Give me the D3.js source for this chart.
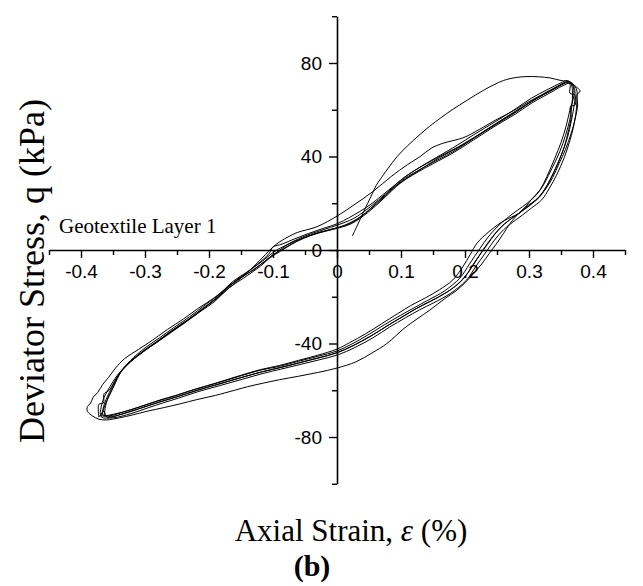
<!DOCTYPE html>
<html>
<head>
<meta charset="utf-8">
<script src="https://cdn.jsdelivr.net/npm/d3@7/dist/d3.min.js"></script>
<style>
  html, body { margin: 0; padding: 0; background: #fff; }
  svg { display: block; }
</style>
</head>
<body>
<svg id="chart" width="643" height="586"></svg>
<script>
// Axis ticks
const xMajorTicks = [-0.4, -0.3, -0.2, -0.1, 0, 0.1, 0.2, 0.3, 0.4];
const xMinorTicks = [-0.45, -0.35, -0.25, -0.15, -0.05, 0.05, 0.15, 0.25, 0.35, 0.45];
const yMajorTicks = [-80, -40, 0, 40, 80];
const yMinorTicks = [-100, -60, -20, 20, 60, 100];

// Cyclic load test, Geotextile Layer 1: [axial strain (%), deviator stress (kPa)]
// First cycle: initial loading from rest, then the widest unloading/reloading path
const cycle1 = [
  [0.024,6],[0.03,9.5],[0.036,13],[0.041,16],[0.048,20],[0.055,24],[0.061,27.5],[0.067,30],
  [0.08,35],[0.094,40],[0.11,44.5],[0.13,49.5],[0.145,53],[0.162,56.5],[0.18,60],[0.203,64],
  [0.23,68.5],[0.26,72.5],[0.28,73.8],[0.297,74.2],[0.315,74.1],[0.333,73.6],[0.35,72.5],
  [0.364,72],[0.372,70.2],[0.38,68],[0.375,66.5],[0.376,62],[0.372,56],[0.366,50],[0.357,43],
  [0.347,37],[0.337,31],[0.327,26.5],[0.315,22.5],[0.306,20.5],[0.293,18],[0.28,14.5],
  [0.27,11.2],[0.26,7],[0.25,3],[0.238,-1.5],[0.226,-6],[0.212,-10.5],[0.2,-14],[0.186,-17.5],
  [0.17,-20.5],[0.145,-25.7],[0.125,-29.5],[0.105,-33.5],[0.078,-40],[0.055,-44],[0.03,-47.8],
  [0,-50.5],[-0.03,-52.4],[-0.06,-54],[-0.09,-55.5],[-0.116,-57],[-0.14,-58.5],[-0.16,-60],
  [-0.19,-62.2],[-0.219,-64],[-0.245,-65.8],[-0.27,-67.4],[-0.297,-69],[-0.32,-70.6],
  [-0.34,-71.8],[-0.36,-72.7],[-0.372,-72.4],[-0.382,-71],[-0.39,-69],[-0.39,-67],
  [-0.385,-65.5],[-0.381,-63],[-0.374,-61],[-0.366,-57.5],[-0.357,-54.5],[-0.346,-50.5],
  [-0.332,-46.5],[-0.31,-42.5],[-0.288,-38.5],[-0.265,-34],[-0.24,-29.5],[-0.216,-24.8],
  [-0.192,-20.5],[-0.17,-15.6],[-0.148,-11],[-0.124,-6],[-0.106,-1.5],[-0.1,1.3],[-0.086,2.5],
  [-0.066,4.8],[-0.045,7],[-0.022,9.2],[0,11.2],[0.02,14],[0.05,19],[0.08,25.5],[0.11,32],
  [0.15,38.5],[0.19,44.2],[0.225,50],[0.26,56],[0.29,61],[0.315,65.3],[0.34,69],[0.357,71.5]
];

// Second cycle: reloading branch runs above the others near zero strain
const cycle2 = [
  [-0.368,-71],[-0.363,-65.5],[-0.353,-59.5],[-0.34,-53],[-0.323,-48],[-0.303,-43.5],
  [-0.282,-39.5],[-0.259,-35],[-0.235,-30.5],[-0.211,-25.5],[-0.189,-21],[-0.167,-15.8],
  [-0.15,-12],[-0.13,-7],[-0.112,-2],[-0.1,1.3],[-0.089,3.6],[-0.075,5.8],[-0.062,7.5],
  [-0.031,10],[0,14.5],[0.025,19],[0.056,25],[0.085,31.5],[0.11,36.5],[0.13,40],[0.147,43.5],
  [0.166,45.7],[0.197,48],[0.222,51.5],[0.244,55],[0.275,59.5],[0.3,63.5],[0.325,67.2],
  [0.348,70.5],[0.36,71.6],[0.368,70.5],[0.37,66],[0.364,60],[0.358,53],[0.35,46],[0.34,39],
  [0.328,31.5],[0.318,26],[0.305,22],[0.286,16],[0.268,13.5],[0.255,11.5],[0.236,7.5],
  [0.219,3],[0.208,-2],[0.197,-7],[0.181,-12.8],[0.16,-17],[0.138,-20.5],[0.115,-23.8],
  [0.095,-27.2],[0.07,-31.5],[0.045,-35.8],[0.02,-39.6],[0,-42.4],[-0.03,-45],[-0.06,-47.2],
  [-0.09,-49.4],[-0.12,-51.2],[-0.155,-54],[-0.19,-57],[-0.224,-59.8],[-0.255,-62.6],
  [-0.28,-64.6],[-0.302,-66.6],[-0.33,-69],[-0.356,-71],[-0.368,-71]
];

// Later cycles: stabilised loops
const cycle3 = [
  [-0.367,-70.5],[-0.362,-66],[-0.352,-60],[-0.339,-52.5],[-0.322,-47.5],[-0.302,-43],
  [-0.281,-39],[-0.258,-34.5],[-0.234,-30],[-0.21,-25],[-0.188,-20.5],[-0.167,-15],
  [-0.142,-10.5],[-0.116,-5.5],[-0.1,-2],[-0.084,0.5],[-0.065,3.5],[-0.047,5.8],[-0.025,7.8],
  [0,9.5],[0.025,12],[0.05,17],[0.075,23],[0.103,30],[0.14,36],[0.181,42],[0.215,48],
  [0.25,54],[0.28,59],[0.306,64],[0.33,67.5],[0.352,71],[0.362,72],[0.37,70],[0.372,66],
  [0.37,61],[0.366,55],[0.36,48],[0.351,41],[0.339,33.5],[0.328,27.5],[0.316,22.5],[0.3,19],
  [0.286,16],[0.27,13],[0.255,9.5],[0.241,5],[0.228,0],[0.212,-6.5],[0.197,-12.5],
  [0.172,-18],[0.146,-22],[0.124,-25],[0.103,-28.5],[0.078,-32.5],[0.052,-37],[0.025,-41],
  [0,-44],[-0.03,-46.2],[-0.06,-48.3],[-0.09,-50.4],[-0.116,-52],[-0.15,-54.6],[-0.185,-57.4],
  [-0.219,-60],[-0.25,-62.8],[-0.275,-64.8],[-0.297,-66.8],[-0.325,-69.2],[-0.352,-71.2],
  [-0.367,-70.5]
];

const cycle4 = [
  [-0.364,-71],[-0.36,-65],[-0.349,-58.5],[-0.336,-51.5],[-0.318,-46],[-0.298,-41.5],
  [-0.277,-37.5],[-0.254,-33],[-0.23,-28.5],[-0.206,-23.5],[-0.184,-19],[-0.163,-13.5],
  [-0.138,-9],[-0.113,-4],[-0.097,-0.5],[-0.08,2],[-0.06,4.8],[-0.04,7],[-0.02,8.8],[0,10.6],
  [0.026,13.5],[0.052,18.5],[0.078,24.5],[0.105,31],[0.142,37.5],[0.18,43.5],[0.213,49.2],
  [0.248,55],[0.278,60.2],[0.304,65],[0.328,68.5],[0.35,71.5],[0.36,72.5],[0.366,71],
  [0.368,67],[0.367,62],[0.364,56],[0.357,49],[0.348,42],[0.336,35],[0.325,29],[0.313,24],
  [0.297,20],[0.282,17],[0.265,13.5],[0.25,9.8],[0.236,5.5],[0.223,0.5],[0.207,-6],
  [0.192,-12],[0.168,-17.5],[0.142,-21.5],[0.12,-24.8],[0.099,-28],[0.074,-32],[0.048,-36.4],
  [0.022,-40.4],[0,-43.2],[-0.03,-45.5],[-0.06,-47.6],[-0.09,-49.8],[-0.118,-51.3],
  [-0.152,-54],[-0.187,-56.9],[-0.221,-59.5],[-0.252,-62.2],[-0.277,-64.2],[-0.3,-66.3],
  [-0.328,-68.8],[-0.355,-70.6],[-0.364,-71]
];

const cycle5 = [
  [-0.37,-69.5],[-0.366,-64.5],[-0.356,-59],[-0.343,-53.5],[-0.326,-48.5],[-0.306,-44],
  [-0.285,-40.2],[-0.262,-35.8],[-0.238,-31.2],[-0.214,-26.4],[-0.191,-22],[-0.17,-16.5],
  [-0.146,-12],[-0.12,-7],[-0.104,-3.2],[-0.088,-0.5],[-0.07,2.6],[-0.052,5],[-0.03,7.2],
  [-0.005,8.9],[0.022,11.2],[0.048,16],[0.072,21.8],[0.1,28.8],[0.137,35],[0.178,41],
  [0.213,47],[0.247,53],[0.279,58.2],[0.305,63],[0.33,66.8],[0.353,70.3],[0.365,71.4],
  [0.374,69],[0.375,64],[0.373,58],[0.369,52],[0.363,46],[0.355,39.5],[0.343,32],
  [0.332,26.5],[0.32,21.5],[0.304,18],[0.29,15],[0.275,12],[0.26,8.6],[0.246,4.2],
  [0.233,-0.8],[0.217,-7],[0.202,-13],[0.177,-18.6],[0.151,-22.6],[0.129,-25.6],[0.107,-29],
  [0.082,-33],[0.056,-37.6],[0.028,-41.7],[0.002,-44.8],[-0.028,-47],[-0.058,-49],
  [-0.088,-51],[-0.114,-52.7],[-0.148,-55.3],[-0.183,-58],[-0.217,-60.6],[-0.248,-63.4],
  [-0.273,-65.5],[-0.295,-67.5],[-0.322,-70],[-0.35,-71.8],[-0.368,-71.5],[-0.37,-69.5]
];

const cycle6 = [
  [-0.372,-71.5],[-0.372,-66],[-0.365,-65.5],[-0.364,-61.5],[-0.356,-60],[-0.345,-55],
  [-0.33,-49.5],[-0.312,-45.5],[-0.29,-41],[-0.268,-36.5],[-0.245,-32],[-0.22,-27.5],
  [-0.197,-22.5],[-0.176,-17.5],[-0.155,-12.5],[-0.13,-8.5],[-0.11,-4.2],[-0.093,-0.8],
  [-0.076,2.5],[-0.056,4.8],[-0.035,6.8],[-0.012,8.6],[0.012,10.6],[0.038,14.5],[0.062,20.2],
  [0.09,27],[0.122,33],[0.16,39.5],[0.197,45],[0.232,51.2],[0.265,57],[0.293,61.8],
  [0.318,65.8],[0.342,69.5],[0.358,71.8],[0.364,71],[0.364,67],[0.371,66.5],[0.372,62],
  [0.365,61.5],[0.366,57],[0.362,51.5],[0.355,44],[0.345,37],[0.334,30.5],[0.322,25],
  [0.309,20.8],[0.293,17.4],[0.278,14.5],[0.262,11.2],[0.248,7.2],[0.235,2.4],[0.22,-3.4],
  [0.205,-9.6],[0.185,-15.5],[0.159,-20],[0.135,-23.4],[0.113,-26.8],[0.09,-30.5],
  [0.065,-34.8],[0.038,-39],[0.012,-42.6],[-0.015,-45.2],[-0.045,-47.3],[-0.075,-49.4],
  [-0.103,-51.2],[-0.133,-53.3],[-0.168,-56],[-0.202,-58.7],[-0.235,-61.5],[-0.262,-63.8],
  [-0.286,-65.8],[-0.31,-68],[-0.338,-70.4],[-0.36,-71.5],[-0.364,-69],[-0.372,-71.5]
];

const cycles = [cycle1, cycle2, cycle3, cycle4, cycle5, cycle6];

const svg = d3.select("#chart");
const x = d3.scaleLinear().domain([-0.45, 0.45]).range([49, 625]);
const y = d3.scaleLinear().domain([-100, 100]).range([483.75, 16.25]);

const sans = "'Liberation Sans', Arial, sans-serif";
const serif = "'Liberation Serif', 'Times New Roman', serif";

// Axes cross at the origin
const xAxisG = svg.append("g").attr("transform", `translate(0,${y(0)})`);
xAxisG.call(d3.axisBottom(x).tickValues(xMinorTicks).tickSize(5).tickFormat(""))
  .call(g => g.select(".domain").remove());
xAxisG.append("g").call(
  d3.axisBottom(x).tickValues(xMajorTicks).tickSize(8).tickSizeOuter(0).tickPadding(7)
    .tickFormat(d => d === 0 ? "0" : d.toFixed(1))
);

const yAxisG = svg.append("g").attr("transform", `translate(${x(0)},0)`);
yAxisG.call(d3.axisLeft(y).tickValues(yMinorTicks).tickSize(5).tickFormat(""))
  .call(g => g.select(".domain").remove());
yAxisG.append("g").call(
  d3.axisLeft(y).tickValues(yMajorTicks).tickSize(8).tickSizeOuter(0).tickPadding(7)
    .tickFormat(d => String(d))
);

svg.selectAll(".domain").attr("stroke-width", 1.6).attr("stroke", "#000");
svg.selectAll(".tick line").attr("stroke-width", 1.4).attr("stroke", "#000");
svg.selectAll(".tick text").attr("font-family", sans).attr("font-size", 19).attr("fill", "#000");

// Stress-strain loops
const line = d3.line()
  .x(d => x(d[0]))
  .y(d => y(d[1]))
  .curve(d3.curveCatmullRom.alpha(0.5));

svg.append("g")
  .selectAll("path")
  .data(cycles)
  .join("path")
  .attr("d", line)
  .attr("fill", "none")
  .attr("stroke", "#000")
  .attr("stroke-width", 1)
  .attr("stroke-linejoin", "round");

// Labels
svg.append("text")
  .attr("x", 59).attr("y", 233)
  .attr("font-family", serif).attr("font-size", 21)
  .text("Geotextile Layer 1");

svg.append("text")
  .attr("transform", "translate(44,271) rotate(-90)")
  .attr("text-anchor", "middle")
  .attr("font-family", serif).attr("font-size", 36)
  .text("Deviator Stress, q (kPa)");

const xt = svg.append("text")
  .attr("x", 351).attr("y", 541)
  .attr("text-anchor", "middle")
  .attr("font-family", serif).attr("font-size", 31);
xt.append("tspan").text("Axial Strain, ");
xt.append("tspan").attr("font-style", "italic").text("ε");
xt.append("tspan").text(" (%)");

svg.append("text")
  .attr("x", 312).attr("y", 576)
  .attr("text-anchor", "middle")
  .attr("font-family", serif).attr("font-size", 30).attr("font-weight", "bold")
  .text("(b)");
</script>
</body>
</html>
